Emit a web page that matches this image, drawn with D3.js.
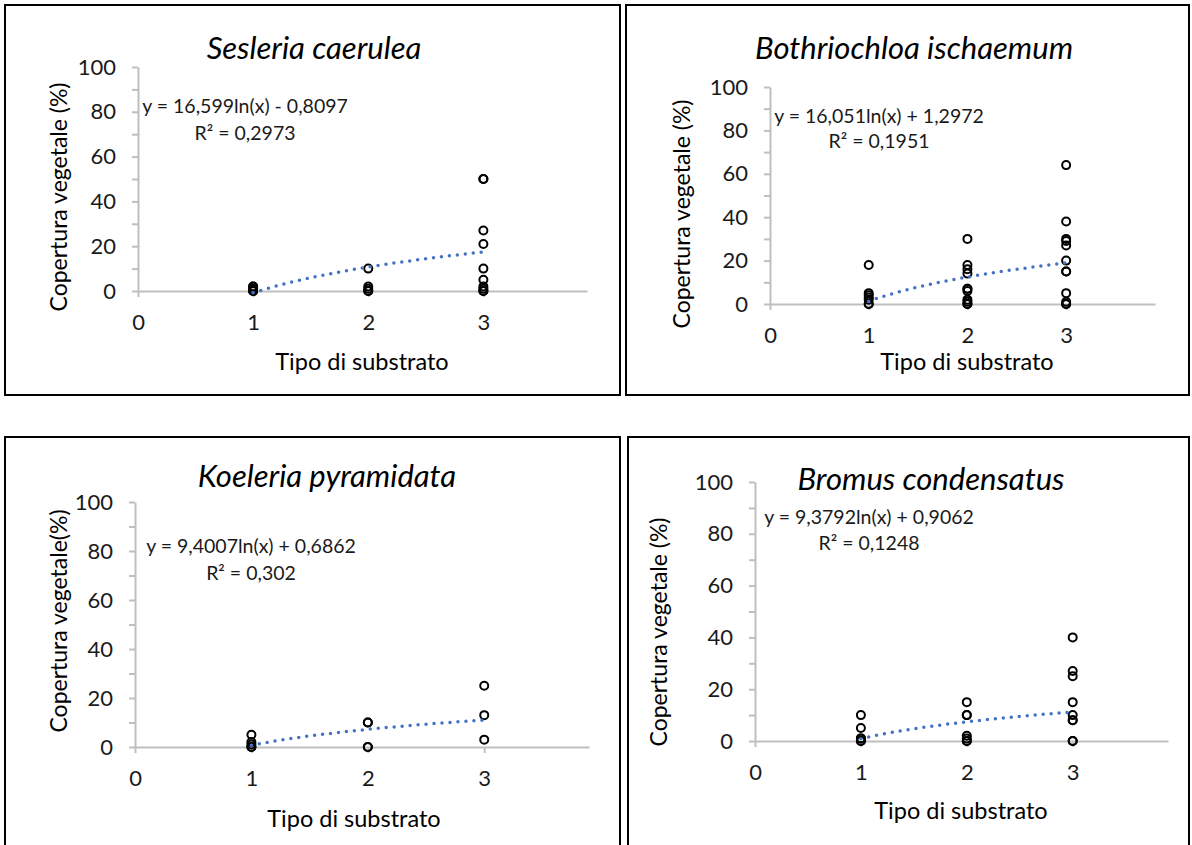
<!DOCTYPE html>
<html>
<head>
<meta charset="utf-8">
<script src="https://cdn.jsdelivr.net/npm/d3@7"></script>
<style>
  html, body { margin: 0; padding: 0; background: #fff; }
  svg { display: block; font-family: Lato, "Open Sans", sans-serif; }
</style>
</head>
<body>
<svg id="chart" width="1192" height="845"></svg>
<script>
// ---------- DATA ----------
const speciesTitles = ["Sesleria caerulea", "Bothriochloa ischaemum", "Koeleria pyramidata", "Bromus condensatus"];
const yAxisTitles = ["Copertura vegetale (%)", "Copertura vegetale (%)", "Copertura vegetale(%)", "Copertura vegetale (%)"];
const xAxisTitle = "Tipo di substrato";
const xTickValues = [0, 1, 2, 3];
const yTickValues = [0, 10, 20, 30, 40, 50, 60, 70, 80, 90, 100];
const yTickLabelled = [0, 20, 40, 60, 80, 100];

// cover values per substrate type (x = 1, 2, 3)
const sesleriaS1 = [0, 0, 0.5, 1, 2, 2];
const sesleriaS2 = [10, 2, 1, 0, 0];
const sesleriaS3 = [50, 50, 27, 21, 10, 5, 2, 1, 0, 0];

const bothriochloaS1 = [18, 5, 4, 3, 2, 0, 0];
const bothriochloaS2 = [30, 18, 16, 14, 7, 7, 6, 2, 1, 0, 0];
const bothriochloaS3 = [64, 38, 30, 29, 27, 20, 15, 15, 5, 1, 0, 0];

const koeleriaS1 = [5, 2, 1, 0, 0];
const koeleriaS2 = [10, 10, 0, 0];
const koeleriaS3 = [25, 13, 3];

const bromusS1 = [10, 5, 1, 1, 0, 0];
const bromusS2 = [15, 10, 10, 2, 1, 0, 0];
const bromusS3 = [40, 27, 25, 15, 10, 8, 8, 0, 0];

// logarithmic trendline coefficients y = a ln(x) + b (as printed on the chart)
const trendA = [16.599, 16.051, 9.4007, 9.3792];
const trendB = [-0.8097, 1.2972, 0.6862, 0.9062];
const equationLabels = ["y = 16,599ln(x) - 0,8097", "y = 16,051ln(x) + 1,2972", "y = 9,4007ln(x) + 0,6862", "y = 9,3792ln(x) + 0,9062"];
const r2Labels = ["R² = 0,2973", "R² = 0,1951", "R² = 0,302", "R² = 0,1248"];

// ---------- LAYOUT ----------
const layout = [
  {box: [5, 5, 620, 395], x0: 138, x1: 587, yTop: 67, yBot: 291, title: [314, 47], ytitle: [58, 197], xtitle: [362, 361], eq: [245, 105, 132]},
  {box: [626, 5, 1189, 395], x0: 770, x1: 1155, yTop: 87, yBot: 304, title: [914, 47], ytitle: [681, 214], xtitle: [967, 361], eq: [879, 115, 140]},
  {box: [5, 437, 620, 870], x0: 135, x1: 589, yTop: 502, yBot: 747, title: [327, 475], ytitle: [58, 621], xtitle: [354, 818], eq: [251, 545, 572]},
  {box: [628, 437, 1189, 870], x0: 755, x1: 1168, yTop: 482, yBot: 741, title: [931, 478], ytitle: [658, 632], xtitle: [961, 810], eq: [869, 516, 542]}
];

const seriesByPanel = [
  [sesleriaS1, sesleriaS2, sesleriaS3],
  [bothriochloaS1, bothriochloaS2, bothriochloaS3],
  [koeleriaS1, koeleriaS2, koeleriaS3],
  [bromusS1, bromusS2, bromusS3]
];

const svg = d3.select("#chart");
const axisColor = "#bfbfbf";
const textColor = "#1a1a1a";

layout.forEach((L, i) => {
  const g = svg.append("g");
  // frame
  g.append("rect")
    .attr("x", L.box[0]).attr("y", L.box[1])
    .attr("width", L.box[2] - L.box[0]).attr("height", L.box[3] - L.box[1])
    .attr("fill", "none").attr("stroke", "#000").attr("stroke-width", 2);

  const x = d3.scaleLinear().domain([0, 3.9]).range([L.x0, L.x1]);
  const y = d3.scaleLinear().domain([0, 100]).range([L.yBot, L.yTop]);

  // y axis
  const yAxis = d3.axisLeft(y).tickValues(yTickValues).tickSize(6).tickSizeOuter(0).tickPadding(16)
    .tickFormat(d => yTickLabelled.includes(d) ? String(d) : "");
  const gy = g.append("g").attr("transform", `translate(${L.x0},0)`).call(yAxis);
  // x axis
  const xAxis = d3.axisBottom(x).tickValues(xTickValues).tickSize(6).tickSizeOuter(0).tickPadding(17)
    .tickFormat(d3.format("d"));
  const gx = g.append("g").attr("transform", `translate(0,${L.yBot})`).call(xAxis);

  [gx, gy].forEach(a => {
    a.select(".domain").attr("stroke", axisColor).attr("stroke-width", 2);
    a.selectAll(".tick line").attr("stroke", axisColor).attr("stroke-width", 2);
    a.selectAll(".tick text").attr("fill", textColor).style("font-size", "22px").style("font-family", "Lato, sans-serif");
  });

  // points
  const pts = [];
  seriesByPanel[i].forEach((vals, k) => vals.forEach(v => pts.push({x: k + 1, y: v})));
  g.append("g").selectAll("circle").data(pts).join("circle")
    .attr("cx", d => x(d.x)).attr("cy", d => y(d.y)).attr("r", 4)
    .attr("fill", "none").attr("stroke", "#000").attr("stroke-width", 2);

  // trendline
  const tx = d3.range(1, 3.0001, 0.02);
  const line = d3.line().x(d => x(d)).y(d => y(trendA[i] * Math.log(d) + trendB[i]));
  g.append("path").datum(tx).attr("d", line)
    .attr("fill", "none").attr("stroke", "#4472c4").attr("stroke-width", 3.5)
    .attr("stroke-linecap", "round").attr("stroke-dasharray", "0 8");

  // titles
  g.append("text").attr("x", L.title[0]).attr("y", L.title[1]).attr("text-anchor", "middle")
    .attr("dominant-baseline", "central").style("font-size", "31px").style("font-style", "italic")
    .attr("fill", "#000").text(speciesTitles[i]);
  g.append("text").attr("transform", `translate(${L.ytitle[0]},${L.ytitle[1]}) rotate(-90)`)
    .attr("text-anchor", "middle").attr("dominant-baseline", "central")
    .style("font-size", "23px").attr("fill", "#000").text(yAxisTitles[i]);
  g.append("text").attr("x", L.xtitle[0]).attr("y", L.xtitle[1]).attr("text-anchor", "middle")
    .attr("dominant-baseline", "central").style("font-size", "23.5px").attr("fill", "#000").text(xAxisTitle);

  // equation
  g.append("text").attr("x", L.eq[0]).attr("y", L.eq[1]).attr("text-anchor", "middle")
    .attr("dominant-baseline", "central").style("font-size", "19.5px").attr("fill", textColor).text(equationLabels[i]);
  g.append("text").attr("x", L.eq[0]).attr("y", L.eq[2]).attr("text-anchor", "middle")
    .attr("dominant-baseline", "central").style("font-size", "19.5px").attr("fill", textColor).text(r2Labels[i]);
});
</script>
</body>
</html>
